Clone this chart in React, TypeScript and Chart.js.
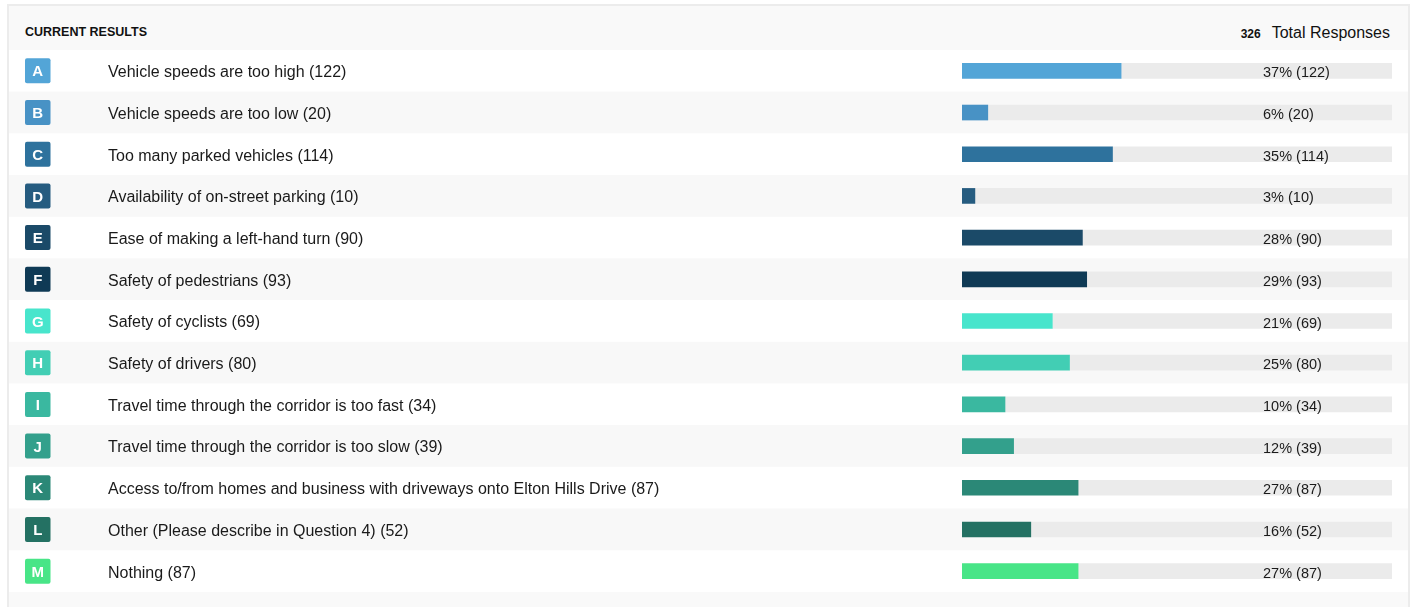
import React, { useEffect, useRef } from "react";
import { Chart, registerables } from "chart.js";

Chart.register(...registerables);

const letters = ["A", "B", "C", "D", "E", "F", "G", "H", "I", "J", "K", "L", "M"];
const categories = [
  "Vehicle speeds are too high",
  "Vehicle speeds are too low",
  "Too many parked vehicles",
  "Availability of on-street parking",
  "Ease of making a left-hand turn",
  "Safety of pedestrians",
  "Safety of cyclists",
  "Safety of drivers",
  "Travel time through the corridor is too fast",
  "Travel time through the corridor is too slow",
  "Access to/from homes and business with driveways onto Elton Hills Drive",
  "Other (Please describe in Question 4)",
  "Nothing",
];
const counts = [122, 20, 114, 10, 90, 93, 69, 80, 34, 39, 87, 52, 87];
const totalResponses = 326;
const barColors = [
  "#53a5d7",
  "#4892c5",
  "#2e729d",
  "#265c80",
  "#1b4a68",
  "#0f3a55",
  "#48e5cc",
  "#42ceb4",
  "#3ab8a0",
  "#33a08c",
  "#2b8877",
  "#247163",
  "#48e587",
];

const FONT = '"Liberation Sans", Arial, Helvetica, sans-serif';

export default function App() {
  const canvasRef = useRef<HTMLCanvasElement | null>(null);

  useEffect(() => {
    const canvas = canvasRef.current;
    if (!canvas) return;
    const pct = counts.map((c) => Math.round((c / totalResponses) * 100));
    const rest = pct.map((p) => 100 - p);
    const tickLabels = categories.map((c, i) => `${c} (${counts[i]})`);

    const rowPlugin = {
      id: "rows",
      beforeDraw(chart: any) {
        const ctx = chart.ctx;
        const y = chart.scales.y;
        const h = (y.bottom - y.top) / letters.length;
        ctx.save();
        letters.forEach((_, i) => {
          const cy = y.getPixelForValue(i);
          ctx.fillStyle = i % 2 === 1 ? "#f8f8f8" : "#ffffff";
          ctx.fillRect(0, cy - h / 2, chart.width, h);
        });
        ctx.restore();
      },
      afterDraw(chart: any) {
        const ctx = chart.ctx;
        const y = chart.scales.y;
        ctx.save();
        letters.forEach((L, i) => {
          const cy = y.getPixelForValue(i);
          const bx = 16, bw = 25.5, bh = 25;
          ctx.fillStyle = barColors[i];
          ctx.beginPath();
          (ctx as any).roundRect(bx, cy - bh / 2, bw, bh, 2);
          ctx.fill();
          ctx.fillStyle = "#ffffff";
          ctx.font = `bold 15px ${FONT}`;
          ctx.textAlign = "center";
          ctx.textBaseline = "middle";
          ctx.fillText(L, bx + bw / 2, cy + 1.5);
          ctx.fillStyle = "#1a1a1a";
          ctx.font = `14.5px ${FONT}`;
          ctx.textAlign = "left";
          ctx.fillText(`${pct[i]}% (${counts[i]})`, 1254, cy + 2.5);
        });
        ctx.restore();
      },
    };

    const chart = new Chart(canvas, {
      type: "bar",
      data: {
        labels: tickLabels,
        datasets: [
          {
            data: pct,
            backgroundColor: barColors,
            borderWidth: 0,
            barThickness: 15,
          },
          {
            data: rest,
            backgroundColor: "#ebebeb",
            borderWidth: 0,
            barThickness: 15,
          },
        ],
      },
      options: {
        indexAxis: "y",
        animation: false,
        responsive: false,
        layout: { padding: { left: 99, right: 16, top: 0, bottom: 0 } },
        plugins: {
          legend: { display: false },
          tooltip: { enabled: false },
          title: { display: false },
        },
        scales: {
          x: {
            display: false,
            stacked: true,
            min: 0,
            max: 100,
          },
          y: {
            stacked: true,
            grid: { display: false },
            border: { display: false },
            ticks: {
              crossAlign: "far",
              padding: 0,
              labelOffset: 2,
              color: "#1a1a1a",
              font: { family: FONT, size: 16 },
            },
            afterFit(scale: any) {
              scale.width = 854;
              scale.paddingTop = 0;
              scale.paddingBottom = 0;
            },
          },
        },
      },
      plugins: [rowPlugin],
    });
    return () => chart.destroy();
  }, []);

  return (
    <div
      style={{
        position: "fixed",
        left: 0,
        top: 0,
        width: 1418,
        height: 607,
        background: "#ffffff",
        overflow: "hidden",
        fontFamily: FONT,
      }}
    >
      <div
        style={{
          position: "absolute",
          left: 7,
          top: 4,
          width: 1399,
          height: 640,
          border: "2px solid #ececec",
          borderBottom: "none",
          background: "#f9f9f9",
        }}
      >
        <div
          style={{
            position: "absolute",
            left: 0,
            top: 0,
            width: 1399,
            height: 44,
            display: "flex",
            alignItems: "center",
            justifyContent: "space-between",
            color: "#111111",
          }}
        >
          <span style={{ marginLeft: 16, fontWeight: "bold", fontSize: 12.5, marginTop: 8 }}>
            CURRENT RESULTS
          </span>
          <span style={{ marginRight: 18, marginTop: 10 }}>
            <span style={{ fontWeight: "bold", fontSize: 12, marginRight: 11 }}>{totalResponses}</span>
            <span style={{ fontSize: 16 }}>Total Responses</span>
          </span>
        </div>
        <canvas
          ref={canvasRef}
          width={1399}
          height={542}
          style={{ position: "absolute", left: 0, top: 44, width: 1399, height: 542 }}
        />
      </div>
    </div>
  );
}
